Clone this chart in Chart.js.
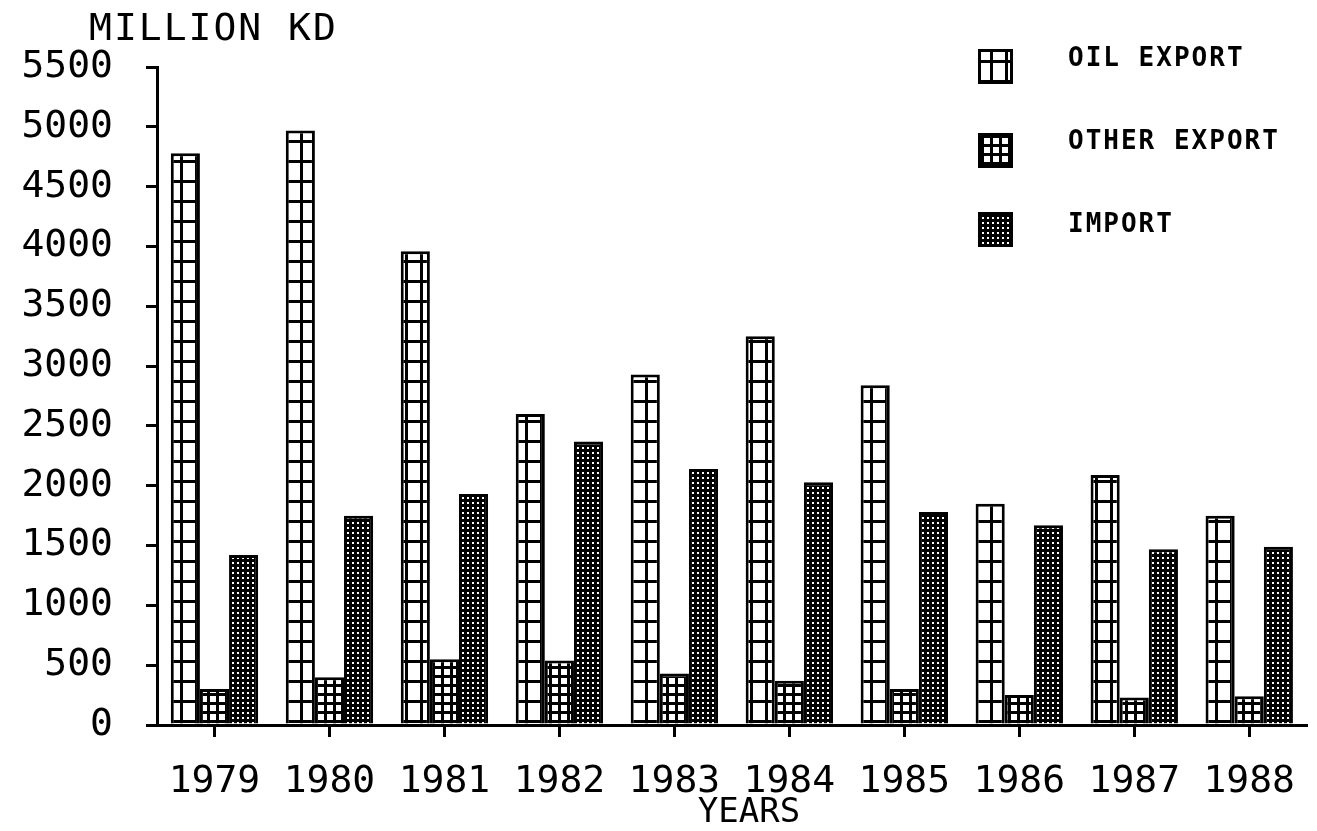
<!DOCTYPE html>
<html>
<head>
<meta charset="utf-8">
<title>Kuwait trade 1979-1988</title>
<script src="https://cdn.jsdelivr.net/npm/chart.js@4.4.1/dist/chart.umd.min.js"></script>
<style>
  html, body { margin: 0; padding: 0; background: #fff; overflow: hidden; }
  #wrap { width: 1317px; height: 831px; }
</style>
</head>
<body>
<div id="wrap"><canvas id="chart" width="1317" height="831"></canvas></div>
<script>
// Values (million KD)
const years = ['1979', '1980', '1981', '1982', '1983', '1984', '1985', '1986', '1987', '1988'];
const oilExport = [4780, 4970, 3960, 2600, 2930, 3250, 2840, 1850, 2090, 1750];
const otherExport = [300, 400, 550, 540, 430, 370, 300, 250, 230, 240];
const imports = [1420, 1750, 1930, 2370, 2140, 2030, 1780, 1670, 1470, 1490];
const seriesNames = ['OIL EXPORT', 'OTHER EXPORT', 'IMPORT'];
const yMax = 5500;
const yStep = 500;

const MONO = '"DejaVu Sans Mono", monospace';

// Build the fill patterns used by the plotter
function makePattern(w, h, draw) {
    const c = document.createElement('canvas');
    c.width = w;
    c.height = h;
    const g = c.getContext('2d');
    draw(g, w, h);
    return g.createPattern(c, 'repeat');
}

const ctx = document.getElementById('chart').getContext('2d');

// big grid: two columns, rows every 20px
const oilPattern = makePattern(15, 20, (g, w, h) => {
    g.fillStyle = '#fff';
    g.fillRect(0, 0, w, h);
    g.fillStyle = '#000';
    g.fillRect(0, 0, w, 3);
    g.fillRect(0, 0, 3, h);
});

// small grid
const otherPattern = makePattern(9, 9, (g, w, h) => {
    g.fillStyle = '#fff';
    g.fillRect(0, 0, w, h);
    g.fillStyle = '#000';
    g.fillRect(0, 0, w, 3);
    g.fillRect(0, 0, 3, h);
});

// dense dots on black
const importPattern = makePattern(5, 5, (g, w, h) => {
    g.fillStyle = '#000';
    g.fillRect(0, 0, w, h);
    g.fillStyle = '#fff';
    g.fillRect(2, 2, 2, 2);
});

const patterns = [oilPattern, otherPattern, importPattern];

// Titles and legend drawn on top of the chart
const decorations = {
    id: 'decorations',
    afterDraw(chart) {
        const c = chart.ctx;
        c.save();
        c.fillStyle = '#000';
        c.font = '38px ' + MONO;
        c.letterSpacing = '2px';
        c.textBaseline = 'middle';
        c.textAlign = 'left';
        c.fillText('MILLION KD', 89, 30);

        c.font = '34px ' + MONO;
        c.letterSpacing = '0px';
        c.textAlign = 'center';
        c.fillText('YEARS', 749, 813);

        const rows = [
            { box: 49, text: 59 },
            { box: 133, text: 142 },
            { box: 212, text: 225 }
        ];
        c.font = 'bold 26px ' + MONO;
        c.letterSpacing = '2px';
        c.textAlign = 'left';
        rows.forEach((r, i) => {
            c.fillStyle = patterns[i];
            c.fillRect(978, r.box, 35, 35);
            c.strokeStyle = '#000';
            c.lineWidth = 3;
            c.strokeRect(979.5, r.box + 1.5, 32, 32);
            c.fillStyle = '#000';
            c.fillText(seriesNames[i], 1068, r.text);
        });
        c.restore();
    }
};

const dataSets = [oilExport, otherExport, imports].map((values, i) => ({
    label: seriesNames[i],
    data: values,
    backgroundColor: patterns[i],
    borderColor: '#000',
    borderWidth: 3,
    borderSkipped: 'bottom',
    categoryPercentage: 0.76,
    barPercentage: 1.0
}));

new Chart(ctx, {
    type: 'bar',
    data: {
        labels: years,
        datasets: dataSets
    },
    options: {
        responsive: false,
        devicePixelRatio: 1,
        animation: false,
        layout: {
            padding: { top: 67, right: 0, bottom: 0, left: 0 }
        },
        plugins: {
            legend: { display: false },
            title: { display: false },
            tooltip: { enabled: false }
        },
        scales: {
            x: {
                offset: true,
                grid: {
                    offset: false,
                    drawOnChartArea: false,
                    drawTicks: true,
                    tickLength: 12,
                    color: '#000',
                    lineWidth: 3
                },
                border: { display: true, color: '#000', width: 3 },
                ticks: {
                    color: '#000',
                    padding: 22,
                    font: { family: MONO, size: 38 }
                },
                afterFit(scale) {
                    scale.height = 106;
                }
            },
            y: {
                min: 0,
                max: yMax,
                ticks: {
                    stepSize: yStep,
                    color: '#000',
                    padding: 33,
                    font: { family: MONO, size: 38 },
                    callback: value => String(value)
                },
                grid: {
                    drawOnChartArea: false,
                    drawTicks: true,
                    tickLength: 11,
                    color: '#000',
                    lineWidth: 3
                },
                border: { display: true, color: '#000', width: 3 },
                afterFit(scale) {
                    scale.width = 157;
                }
            }
        }
    },
    plugins: [decorations]
});
</script>
</body>
</html>
